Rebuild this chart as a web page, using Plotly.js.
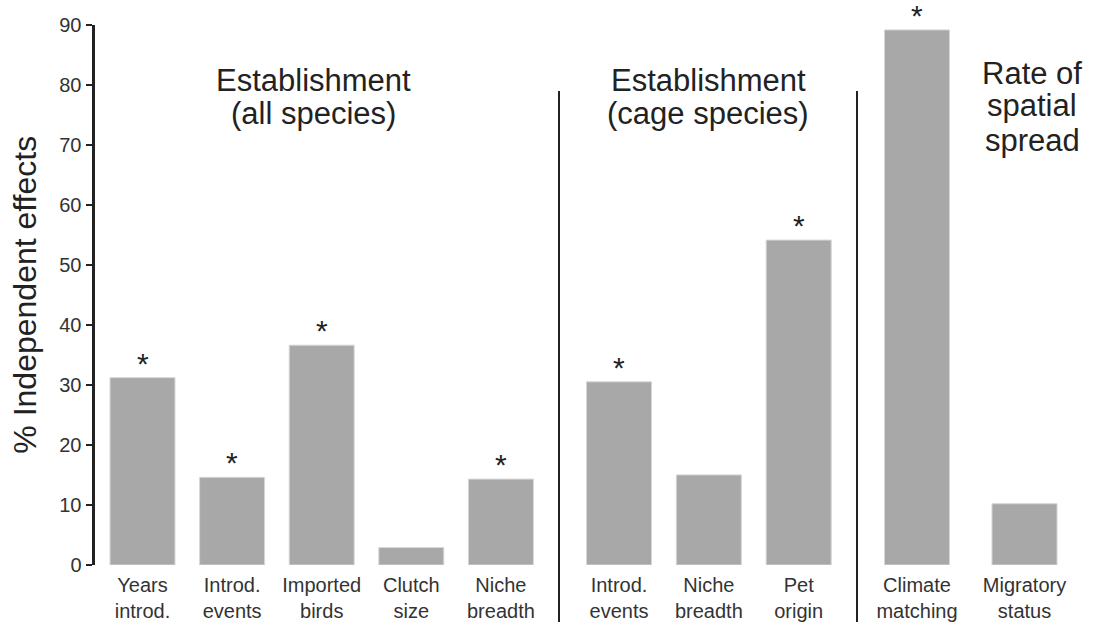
<!DOCTYPE html>
<html>
<head>
<meta charset="utf-8">
<script src="https://cdn.plot.ly/plotly-3.0.1.min.js"></script>
<style>html,body{margin:0;padding:0;background:#fff;}#chart{width:1094px;height:626px;}</style>
</head>
<body>
<div id="chart"></div>
<script>
// ---- data ----
var catsAll = ['Years<br>introd.', 'Introd.<br>events', 'Imported<br>birds', 'Clutch<br>size', 'Niche<br>breadth'];
var valsAll = [31.2, 14.6, 36.6, 2.9, 14.3];
var sigAll = [true, true, true, false, true];

var catsCage = ['Introd.<br>events', 'Niche<br>breadth', 'Pet<br>origin'];
var valsCage = [30.5, 15.0, 54.1];
var sigCage = [true, false, true];

var catsSpread = ['Climate<br>matching', 'Migratory<br>status'];
var valsSpread = [89.1, 10.2];
var sigSpread = [true, false];

var yTicks = [0, 10, 20, 30, 40, 50, 60, 70, 80, 90];
var groupTitles = [['Establishment', '(all species)'], ['Establishment', '(cage species)'], ['Rate of', 'spatial', 'spread']];
var yTitle = '% Independent effects';

// ---- layout helpers ----
var W = 1094, H = 626;
function px(x) { return x / W; }
function py(y) { return 1 - y / H; }

var barColor = '#a8a8a8';
var textCol = '#222222';
var font = 'Liberation Sans, Arial, Helvetica, sans-serif';

function barTrace(cats, vals, xa, w) {
  return {
    type: 'bar', x: cats, y: vals, xaxis: xa, yaxis: 'y',
    width: w,
    marker: { color: barColor, line: { color: '#d6d6d6', width: 1 } },
    hoverinfo: 'x+y', showlegend: false
  };
}

var data = [
  barTrace(catsAll, valsAll, 'x', 0.725),
  barTrace(catsCage, valsCage, 'x2', 0.724),
  barTrace(catsSpread, valsSpread, 'x3', 0.605)
];

function xAxis(domain) {
  return {
    domain: domain, anchor: 'y', type: 'category',
    showline: false, showgrid: false, zeroline: false, ticks: '',
    tickfont: { size: 20, color: '#333', family: font },
    ticklabelstandoff: 6,
    fixedrange: true
  };
}

var annotations = [];
// significance stars from data
[[valsAll, sigAll, 'x'], [valsCage, sigCage, 'x2'], [valsSpread, sigSpread, 'x3']].forEach(function (g) {
  g[0].forEach(function (v, i) {
    if (g[1][i]) {
      annotations.push({
        xref: g[2], yref: 'y', x: i, y: v, xanchor: 'center', yanchor: 'bottom',
        yshift: -4, showarrow: false, text: '*',
        font: { size: 30, color: textCol, family: font }
      });
    }
  });
});

var titleCenters = [313, 708, 1032];
var titleLineY = [[80, 113], [80, 113], [73, 106, 140]];
groupTitles.forEach(function (lines, gi) {
  lines.forEach(function (t, li) {
    annotations.push({
      xref: 'paper', yref: 'paper', x: px(titleCenters[gi]), y: py(titleLineY[gi][li]),
      xanchor: 'center', yanchor: 'middle', showarrow: false, text: t,
      font: { size: 31, color: textCol, family: font }
    });
  });
});

var layout = {
  width: W, height: H,
  margin: { l: 0, r: 0, t: 0, b: 0 },
  paper_bgcolor: '#fff', plot_bgcolor: '#fff',
  font: { family: font, color: textCol },
  xaxis: xAxis([px(97.7), px(545.7)]),
  xaxis2: xAxis([px(574.1), px(843.6)]),
  xaxis3: xAxis([px(863.25), px(1078.25)]),
  yaxis: {
    domain: [py(565), py(24.5)], range: [0, 90], anchor: 'free', position: px(92.5),
    tickvals: yTicks, ticks: 'outside', ticklen: 6, tickwidth: 2, tickcolor: '#222',
    showline: true, linewidth: 3, linecolor: '#222',
    showgrid: false, zeroline: false,
    tickfont: { size: 20, color: '#333', family: font },
    title: { text: yTitle, font: { size: 32, color: textCol, family: font }, standoff: 12 },
    fixedrange: true
  },
  annotations: annotations,
  shapes: [
    { type: 'line', xref: 'paper', yref: 'paper', x0: px(559), x1: px(559), y0: py(91), y1: py(622), line: { color: '#222', width: 2 } },
    { type: 'line', xref: 'paper', yref: 'paper', x0: px(857), x1: px(857), y0: py(91), y1: py(622), line: { color: '#222', width: 2 } }
  ]
};

Plotly.newPlot('chart', data, layout, { displayModeBar: false, staticPlot: true });
</script>
</body>
</html>
